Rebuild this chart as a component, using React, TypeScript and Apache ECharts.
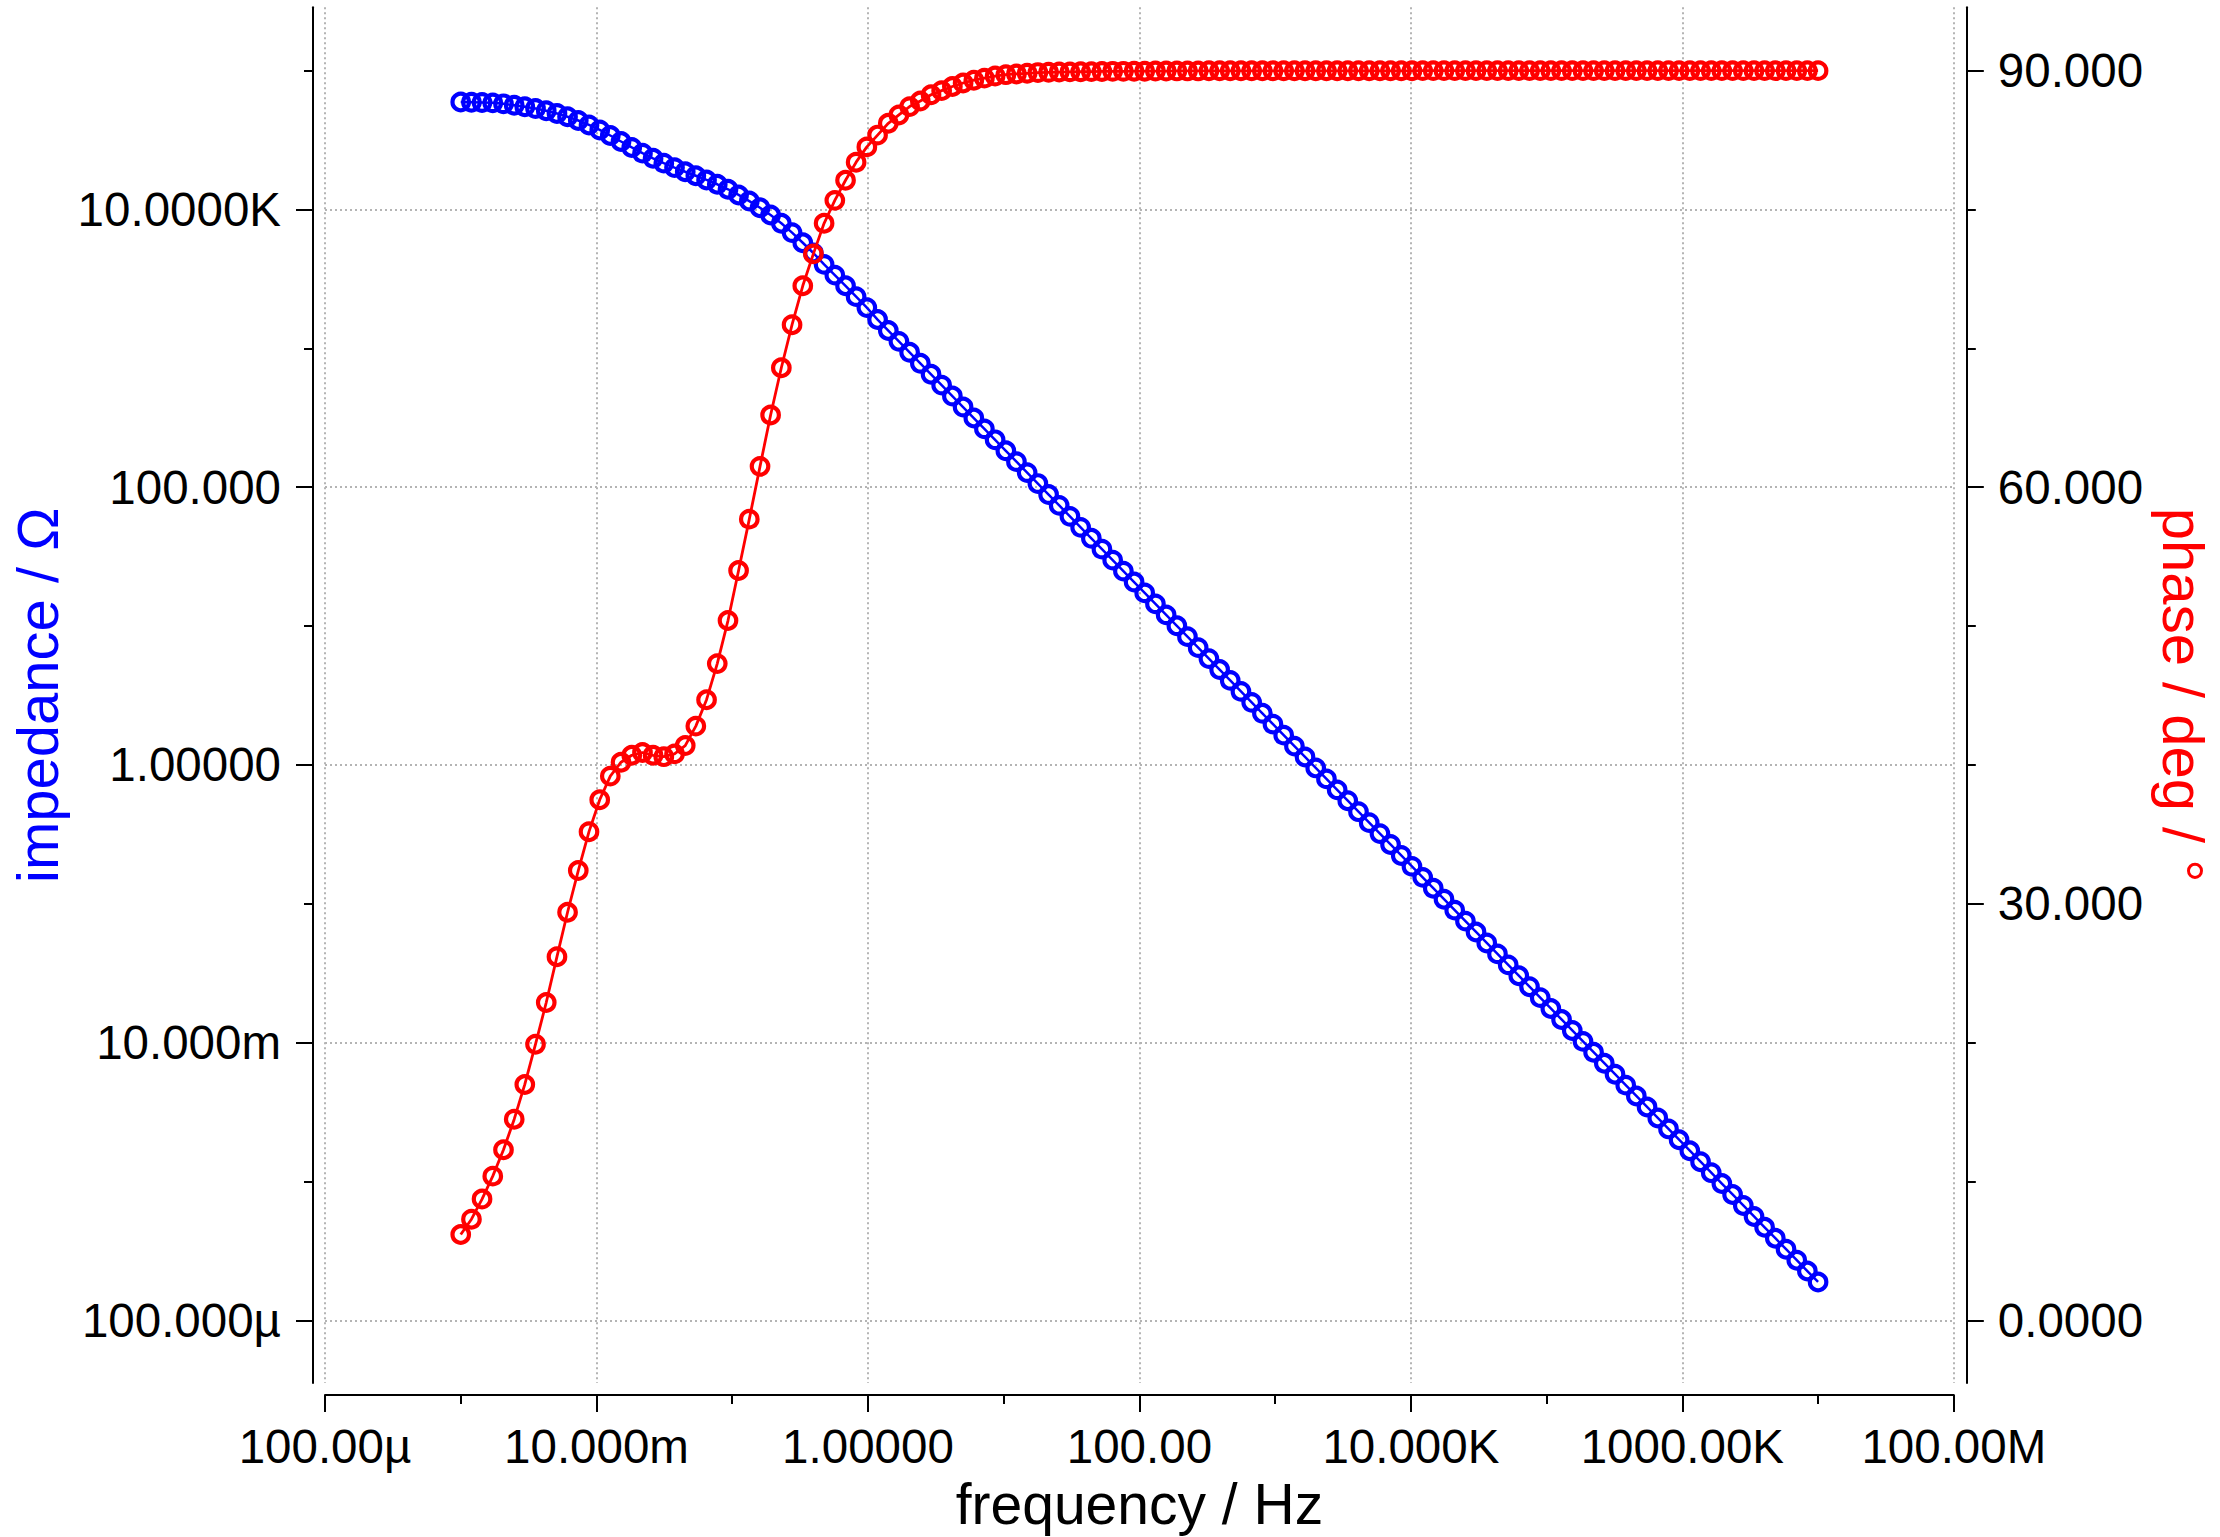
import React, { useEffect, useRef } from "react";
import * as echarts from "echarts";

// log10 of frequency in Hz (sweep 1 mHz .. 10 MHz)
const freqLog10 = [
  -3.000, -2.921, -2.843, -2.764, -2.685, -2.606, -2.528, -2.449, -2.370, -2.291,
  -2.213, -2.134, -2.055, -1.976, -1.898, -1.819, -1.740, -1.661, -1.583, -1.504,
  -1.425, -1.346, -1.268, -1.189, -1.110, -1.031, -0.953, -0.874, -0.795, -0.717,
  -0.638, -0.559, -0.480, -0.402, -0.323, -0.244, -0.165, -0.087, -0.008, 0.071,
  0.150, 0.228, 0.307, 0.386, 0.465, 0.543, 0.622, 0.701, 0.780, 0.858,
  0.937, 1.016, 1.094, 1.173, 1.252, 1.331, 1.409, 1.488, 1.567, 1.646,
  1.724, 1.803, 1.882, 1.961, 2.039, 2.118, 2.197, 2.276, 2.354, 2.433,
  2.512, 2.591, 2.669, 2.748, 2.827, 2.906, 2.984, 3.063, 3.142, 3.220,
  3.299, 3.378, 3.457, 3.535, 3.614, 3.693, 3.772, 3.850, 3.929, 4.008,
  4.087, 4.165, 4.244, 4.323, 4.402, 4.480, 4.559, 4.638, 4.717, 4.795,
  4.874, 4.953, 5.031, 5.110, 5.189, 5.268, 5.346, 5.425, 5.504, 5.583,
  5.661, 5.740, 5.819, 5.898, 5.976, 6.055, 6.134, 6.213, 6.291, 6.370,
  6.449, 6.528, 6.606, 6.685, 6.764, 6.843, 6.921, 7.000,
];

// log10 of |Z| in ohm
const impedanceLog10 = [
  4.773, 4.772, 4.770, 4.767, 4.760, 4.750, 4.739, 4.726, 4.710, 4.691,
  4.667, 4.640, 4.608, 4.572, 4.532, 4.489, 4.446, 4.405, 4.368, 4.333,
  4.301, 4.271, 4.242, 4.212, 4.181, 4.145, 4.104, 4.060, 4.012, 3.960,
  3.900, 3.833, 3.760, 3.686, 3.604, 3.527, 3.450, 3.372, 3.293, 3.207,
  3.128, 3.050, 2.971, 2.892, 2.813, 2.735, 2.656, 2.577, 2.498, 2.420,
  2.341, 2.262, 2.184, 2.105, 2.026, 1.947, 1.869, 1.790, 1.711, 1.632,
  1.554, 1.475, 1.396, 1.317, 1.239, 1.160, 1.081, 1.002, 0.924, 0.845,
  0.766, 0.687, 0.609, 0.530, 0.451, 0.372, 0.294, 0.215, 0.136, 0.058,
  -0.021, -0.100, -0.179, -0.257, -0.336, -0.415, -0.494, -0.572, -0.651, -0.730,
  -0.809, -0.887, -0.966, -1.045, -1.124, -1.202, -1.281, -1.360, -1.439, -1.517,
  -1.596, -1.675, -1.753, -1.832, -1.911, -1.990, -2.068, -2.147, -2.226, -2.305,
  -2.383, -2.462, -2.541, -2.620, -2.698, -2.777, -2.856, -2.935, -3.013, -3.092,
  -3.171, -3.250, -3.328, -3.407, -3.486, -3.565, -3.643, -3.722,
];

// phase in degrees
const phaseDeg = [
  6.2, 7.3, 8.75, 10.4, 12.3, 14.5, 17.0, 19.9, 22.9, 26.2,
  29.4, 32.4, 35.2, 37.5, 39.2, 40.2, 40.7, 40.9, 40.7, 40.6,
  40.8, 41.4, 42.8, 44.7, 47.3, 50.4, 54.0, 57.7, 61.5, 65.2,
  68.6, 71.7, 74.5, 76.8, 79.0, 80.65, 82.1, 83.4, 84.5, 85.35,
  86.2, 86.8, 87.4, 87.8, 88.25, 88.55, 88.85, 89.1, 89.3, 89.45,
  89.6, 89.7, 89.75, 89.8, 89.85, 89.87, 89.89, 89.9, 89.91, 89.92,
  89.93, 89.94, 89.94, 89.95, 89.95, 89.96, 89.96, 89.97, 89.97, 89.97,
  89.98, 89.98, 89.98, 89.98, 89.98, 89.98, 89.98, 89.98, 89.98, 89.98,
  89.98, 89.98, 89.98, 89.98, 89.98, 89.98, 89.98, 89.98, 89.98, 89.98,
  89.99, 89.99, 89.99, 89.99, 89.99, 89.99, 89.99, 89.99, 89.99, 89.99,
  89.99, 89.99, 89.99, 89.99, 89.99, 89.99, 89.99, 89.99, 89.99, 89.99,
  89.99, 89.99, 89.99, 89.99, 89.99, 89.99, 89.99, 89.99, 89.99, 89.99,
  89.99, 89.99, 89.99, 89.99, 89.99, 89.99, 89.99, 89.99,
];

const freqTickExp = [-4, -2, 0, 2, 4, 6, 8];
const freqTickLabels = ["100.00µ", "10.000m", "1.00000", "100.00", "10.000K", "1000.00K", "100.00M"];
const impMajorExp = [-4, -2, 0, 2, 4];
const impMinorExp = [-3, -1, 1, 3, 5];
const impTickLabels = ["100.000µ", "10.000m", "1.00000", "100.000", "10.0000K"];
const phaseMajor = [0, 30, 60, 90];
const phaseMinor = [10, 20, 40, 50, 70, 80];
const phaseTickLabels = ["0.0000", "30.000", "60.000", "90.000"];

const FONT = "Liberation Sans, Arial, sans-serif";

function lookup(vals: number[], labels: string[], v: number) {
  for (let i = 0; i < vals.length; i++) {
    if (Math.abs(vals[i] - v) < 1e-6) return labels[i];
  }
  return "";
}

export default function App() {
  const ref = useRef<HTMLDivElement>(null);
  useEffect(() => {
    if (!ref.current) return;
    const chart = echarts.init(ref.current, undefined, { renderer: "svg" });
    const gridLine = { show: true, lineStyle: { color: "#b4b4b4", width: 2, type: [2, 3] as any } };
    const axisLineStyle = { color: "#000", width: 2 };
    const labelStyle = { color: "#000", fontSize: 47.5, fontFamily: FONT };
    const yMinLog = -4.45;
    const yMaxLog = 5.455;
    const option: any = {
      animation: false,
      backgroundColor: "#fff",
      grid: { left: 320.7, right: 261.7, top: 7.3, bottom: 152.4, containLabel: false },
      xAxis: [
        {
          type: "value",
          min: -4,
          max: 8,
          interval: 2,
          position: "bottom",
          offset: 12,
          axisLine: { show: true, onZero: false, lineStyle: axisLineStyle },
          axisTick: { show: true, length: 17, lineStyle: axisLineStyle },
          minorTick: { show: true, splitNumber: 2, length: 9, lineStyle: axisLineStyle },
          axisLabel: {
            ...labelStyle,
            margin: 27,
            formatter: (v: number) => lookup(freqTickExp, freqTickLabels, v),
          },
          splitLine: gridLine,
          name: "frequency / Hz",
          nameLocation: "middle",
          nameGap: 78,
          nameTextStyle: { color: "#000", fontSize: 57, fontFamily: FONT },
        },
      ],
      yAxis: [
        {
          type: "value",
          min: yMinLog,
          max: yMaxLog,
          position: "left",
          offset: 12,
          axisLine: { show: true, onZero: false, lineStyle: axisLineStyle },
          axisTick: { show: true, length: 17, lineStyle: axisLineStyle, customValues: impMajorExp },
          axisLabel: {
            ...labelStyle,
            margin: 32,
            customValues: impMajorExp,
            formatter: (v: number) => lookup(impMajorExp, impTickLabels, v),
          },
          splitLine: gridLine,
          name: "impedance / Ω",
          nameLocation: "middle",
          nameRotate: 90,
          nameGap: 247,
          nameTextStyle: { color: "#0000ff", fontSize: 58, fontFamily: FONT },
        },
        {
          type: "value",
          min: yMinLog,
          max: yMaxLog,
          position: "left",
          offset: 12,
          axisLine: { show: false, onZero: false },
          axisTick: { show: true, length: 9, lineStyle: axisLineStyle, customValues: impMinorExp },
          axisLabel: { show: false },
          splitLine: { show: false },
        },
        {
          type: "value",
          min: (yMinLog + 4) * 10,
          max: (yMaxLog + 4) * 10,
          position: "right",
          offset: 13,
          axisLine: { show: true, onZero: false, lineStyle: axisLineStyle },
          axisTick: { show: true, length: 17, lineStyle: axisLineStyle, customValues: phaseMajor },
          axisLabel: {
            ...labelStyle,
            margin: 31,
            customValues: phaseMajor,
            formatter: (v: number) => lookup(phaseMajor, phaseTickLabels, v),
          },
          splitLine: { show: false },
          name: "phase / deg / °",
          nameLocation: "middle",
          nameRotate: -90,
          nameGap: 187,
          nameTextStyle: { color: "#ff0000", fontSize: 58, fontFamily: FONT },
        },
        {
          type: "value",
          min: (yMinLog + 4) * 10,
          max: (yMaxLog + 4) * 10,
          position: "right",
          offset: 13,
          axisLine: { show: false, onZero: false },
          axisTick: { show: true, length: 9, lineStyle: axisLineStyle, customValues: phaseMinor },
          axisLabel: { show: false },
          splitLine: { show: false },
        },
      ],
      series: [
        {
          name: "impedance",
          type: "line",
          xAxisIndex: 0,
          yAxisIndex: 0,
          data: freqLog10.map((f, i) => [f, impedanceLog10[i]]),
          symbol: "circle",
          symbolSize: 16.5,
          showSymbol: true,
          itemStyle: { color: "rgba(0,0,0,0)", borderColor: "#0000ff", borderWidth: 4.2 },
          lineStyle: { color: "#0000ff", width: 2.5 },
          silent: true,
          z: 2,
        },
        {
          name: "phase",
          type: "line",
          xAxisIndex: 0,
          yAxisIndex: 2,
          data: freqLog10.map((f, i) => [f, phaseDeg[i]]),
          symbol: "circle",
          symbolSize: 16.5,
          showSymbol: true,
          itemStyle: { color: "rgba(0,0,0,0)", borderColor: "#ff0000", borderWidth: 4.2 },
          lineStyle: { color: "#ff0000", width: 2.8 },
          silent: true,
          z: 3,
        },
      ],
    };
    chart.setOption(option);
    return () => chart.dispose();
  }, []);
  return (
    <div
      ref={ref}
      style={{ position: "fixed", left: 0, top: 0, width: 2220, height: 1537, background: "#fff" }}
    />
  );
}
